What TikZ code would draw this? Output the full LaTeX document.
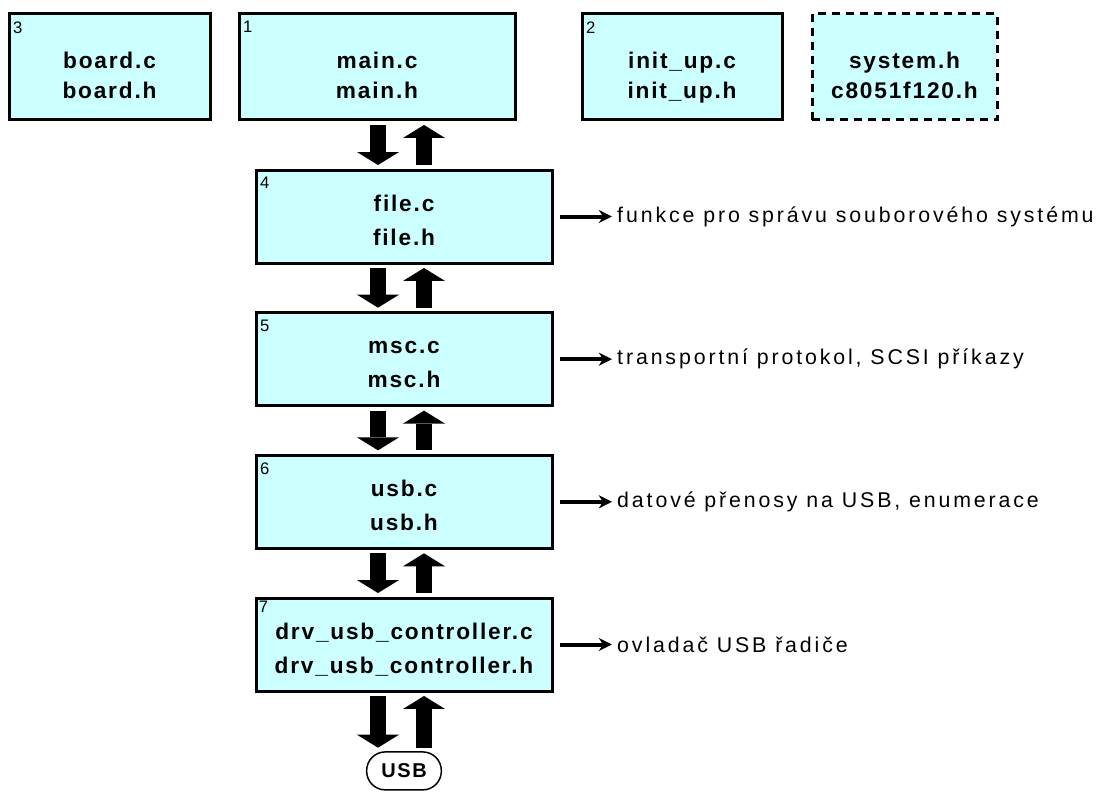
\documentclass[tikz,border=0pt]{standalone}
\usepackage{fontspec}
\setmainfont{Liberation Sans}
\newfontfamily\wideface[LetterSpace=8]{Liberation Sans}
\newfontfamily\noteface[LetterSpace=13.5]{Liberation Sans}
\usetikzlibrary{positioning}
\usetikzlibrary{arrows.meta}
\definecolor{boxcyan}{HTML}{CCFFFF}
\tikzset{node distance=35pt,
    file/.style={
        draw,
        line width=2.25pt,
        fill=boxcyan,
        align=center,
        text depth=0pt},
    layer/.style={
        file,
        minimum width=222pt,
        minimum height=69.75pt,
        text height=42.9pt,
        font=\wideface\fontsize{17}{25.5}\selectfont\bfseries},
    topfile/.style={
        file,
        minimum height=79.5pt,
        text height=47.5pt,
        font=\wideface\fontsize{17}{22.5}\selectfont\bfseries},
    num/.style={
        anchor=north west,
        inner sep=1.5pt,
        font=\fontsize{12.5}{12.5}\selectfont},
    note/.style={
        anchor=west,
        inner sep=0pt,
        font=\noteface\fontsize{16}{16}\selectfont},
    block/.style={
        line width=12pt,
        -{Triangle[width=31.5pt,length=9.75pt,line width=0pt]},
        shorten <=2.6pt,
        shorten >=2.6pt},
    pointer/.style={
        line width=3pt,
        -{Stealth[length=10pt,width=10pt,line width=0pt]},
        shorten <=4.9pt,
        shorten >=3.75pt}}

\begin{document}
\begin{tikzpicture}[x=0.75pt,y=-0.75pt]
        \useasboundingbox (0,0) rectangle (1098,795);

        % top row
        \node[topfile,minimum width=150.75pt] (f3) at (109.5,67) {board.c\\board.h};
        \node[topfile,minimum width=207pt] (f1) at (377,67) {main.c\\main.h};
        \node[topfile,minimum width=150pt] (f2) at (682,67) {init\_up.c\\init\_up.h};
        \node[topfile,minimum width=138.75pt,dash pattern=on 6pt off 4.5pt] (fsys) at (904.5,67) {system.h\\c8051f120.h};

        % layers
        \node[layer] (f4) at (404,216.5) {file.c\\file.h};
        \node[layer,below=of f4] (f5) {msc.c\\msc.h};
        \node[layer,below=of f5] (f6) {usb.c\\usb.h};
        \node[layer,below=of f6] (f7) {drv\_usb\_controller.c\\drv\_usb\_controller.h};
        \node[draw,line width=1.1pt,rounded corners=14pt,minimum width=56pt,minimum height=28.5pt,
              inner sep=0pt,font=\wideface\fontsize{15}{15}\selectfont\bfseries,below=44pt of f7] (usb) {USB};

        % numbers
        \node[num] (n3) at ([shift={(2.5pt,-5pt)}]f3.north west) {3};
        \node[num] (n1) at ([shift={(2.5pt,-5pt)}]f1.north west) {1};
        \node[num] (n2) at ([shift={(2.5pt,-5pt)}]f2.north west) {2};
        \node[num] (n4) at ([shift={(2.5pt,-5pt)}]f4.north west) {4};
        \node[num] (n5) at ([shift={(2.5pt,-5pt)}]f5.north west) {5};
        \node[num] (n6) at ([shift={(2.5pt,-5pt)}]f6.north west) {6};
        \node[num] (n7) at ([shift={(1.5pt,-2pt)}]f7.north west) {7};

        % notes
        \node[note,right=47.6pt of f4] (t4) {funkce pro správu souborového systému};
        \node[note,right=47.6pt of f5] (t5) {transportní protokol, SCSI příkazy};
        \node[note,right=47.6pt of f6] (t6) {datové přenosy na USB, enumerace};
        \node[note,right=47.6pt of f7] (t7) {ovladač USB řadiče};

        \draw[pointer] (f4) -- (t4);
        \draw[pointer] (f5) -- (t5);
        \draw[pointer] (f6) -- (t6);
        \draw[pointer] (f7) -- (t7);

        % data flow
        \draw[block] ([xshift=0.75pt]f1.south) -- ([xshift=-19.5pt]f4.north);
        \draw[block] ([xshift=15pt]f4.north) -- ([xshift=35.25pt]f1.south);
        \draw[block] ([xshift=-19.5pt]f4.south) -- ([xshift=-19.5pt]f5.north);
        \draw[block] ([xshift=15pt]f5.north) -- ([xshift=15pt]f4.south);
        \draw[block] ([xshift=-19.5pt]f5.south) -- ([xshift=-19.5pt]f6.north);
        \draw[block] ([xshift=15pt]f6.north) -- ([xshift=15pt]f5.south);
        \draw[block] ([xshift=-19.5pt]f6.south) -- ([xshift=-19.5pt]f7.north);
        \draw[block] ([xshift=15pt]f7.north) -- ([xshift=15pt]f6.south);
        \draw[block] ([xshift=-19.5pt]f7.south) -- ([xshift=-19.5pt]usb.north);
        \draw[block] ([xshift=15pt]usb.north) -- ([xshift=15pt]f7.south);
    \end{tikzpicture}
\end{document}
